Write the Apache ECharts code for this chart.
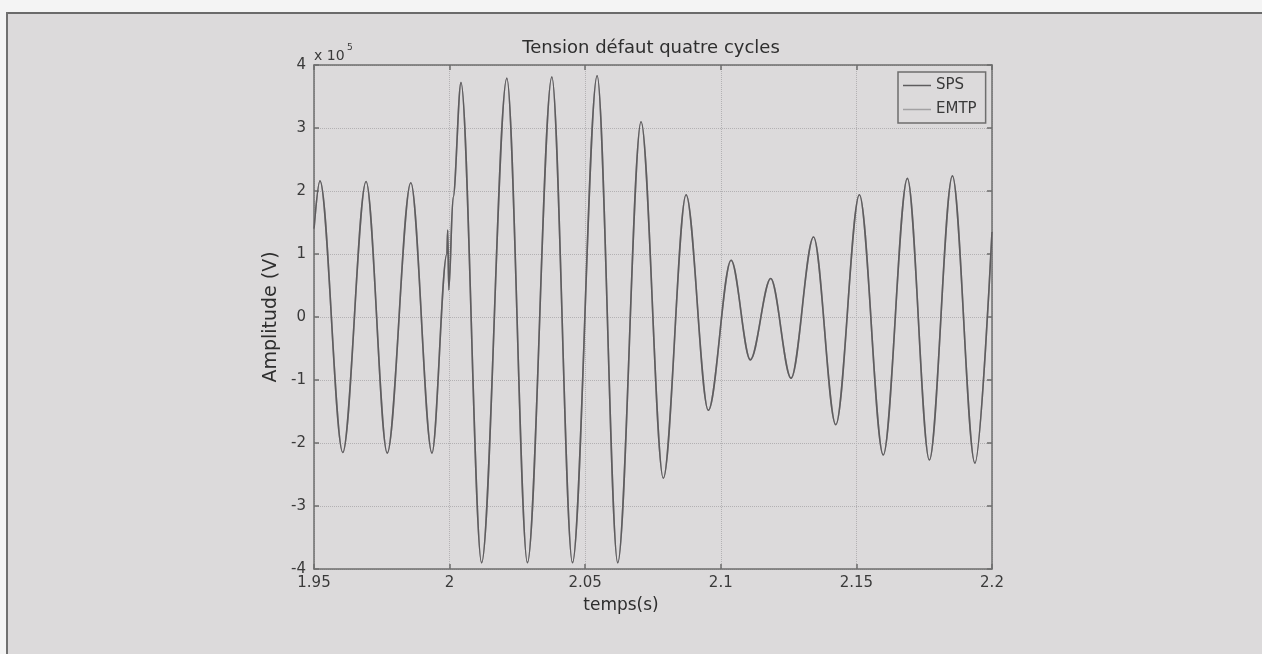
<!DOCTYPE html>
<html>
<head>
<meta charset="utf-8">
<script src="https://cdn.jsdelivr.net/npm/echarts@6/dist/echarts.min.js"></script>
<style>
html,body{margin:0;padding:0;background:#f2f2f2;}
#chart{width:1262px;height:654px;}
</style>
</head>
<body>
<div id="chart"></div>
<script>
// Time (s) of each read point: extrema of the waveform plus the fault spike near t = 2 s
const times = [1.95, 1.9522, 1.9606, 1.9692, 1.9770, 1.9857, 1.9935,
  1.9990, 1.9993, 1.9997, 2.0013, 2.0042, 2.0118, 2.0211, 2.0287, 2.0377,
  2.0453, 2.0544, 2.0620, 2.0706, 2.0788, 2.0872, 2.0954, 2.1038, 2.1109,
  2.1184, 2.1259, 2.1342, 2.1424, 2.1511, 2.1599, 2.1688, 2.1769, 2.1854,
  2.1937, 2.2];
// Amplitude in units of 10^5 V
const spsValues = [1.40, 2.16, -2.15, 2.15, -2.16, 2.13, -2.16,
  1.00, 1.38, 0.43, 1.90, 3.72, -3.90, 3.79, -3.90, 3.81,
  -3.90, 3.83, -3.90, 3.10, -2.56, 1.94, -1.48, 0.90, -0.68,
  0.61, -0.97, 1.27, -1.71, 1.94, -2.19, 2.20, -2.27, 2.24,
  -2.32, 1.35];
const emtpValues = [1.40, 2.16, -2.15, 2.15, -2.16, 2.13, -2.16,
  1.00, 1.38, 0.43, 1.90, 3.72, -3.90, 3.79, -3.90, 3.81,
  -3.90, 3.83, -3.90, 3.10, -2.56, 1.94, -1.48, 0.90, -0.68,
  0.61, -0.97, 1.27, -1.71, 1.94, -2.19, 2.20, -2.27, 2.24,
  -2.32, 1.35];
const xTicks = [1.95, 2, 2.05, 2.1, 2.15, 2.2];
const yTicks = [-4, -3, -2, -1, 0, 1, 2, 3, 4];
const seriesNames = ['SPS', 'EMTP'];
const titleText = 'Tension défaut quatre cycles';
const xName = 'temps(s)';
const yName = 'Amplitude (V)';

const FONT = 'DejaVu Sans';
const BG = '#dcdadb';
const chart = echarts.init(document.getElementById('chart'));

function pairs(vals) { return times.map((t, i) => [t, vals[i]]); }

const axisLineStyle = { color: '#6e6e6e', width: 1.5 };
const labelStyle = { color: '#3a3a3a', fontFamily: FONT, fontSize: 15 };

chart.setOption({
  backgroundColor: BG,
  animation: false,
  graphic: [
    { type: 'rect', shape: { x: 0, y: 0, width: 1262, height: 12 }, style: { fill: '#f4f4f4' }, silent: true, z: -10 },
    { type: 'rect', shape: { x: 0, y: 0, width: 6, height: 654 }, style: { fill: '#f4f4f4' }, silent: true, z: -10 },
    { type: 'line', shape: { x1: 6, y1: 13, x2: 1262, y2: 13 }, style: { stroke: '#6a6a6a', lineWidth: 2 }, silent: true },
    { type: 'line', shape: { x1: 7, y1: 12, x2: 7, y2: 654 }, style: { stroke: '#707070', lineWidth: 2 }, silent: true },
    { type: 'text', left: 314, top: 49, style: { text: 'x 10', fill: '#3a3a3a', font: '14px "DejaVu Sans"' } },
    { type: 'text', left: 347, top: 43, style: { text: '5', fill: '#3a3a3a', font: '9px "DejaVu Sans"' } }
  ],
  title: {
    text: titleText,
    left: 651,
    top: 39,
    padding: 0,
    textAlign: 'center',
    textStyle: { fontFamily: FONT, fontSize: 18, fontWeight: 'normal', color: '#2e2e2e' }
  },
  legend: {
    data: seriesNames,
    orient: 'vertical',
    left: 898,
    top: 72,
    padding: [5, 9, 5, 5],
    icon: 'rect',
    itemGap: 7,
    itemWidth: 28,
    itemHeight: 1.5,
    borderColor: '#6e6e6e',
    borderWidth: 1.5,
    backgroundColor: BG,
    textStyle: { fontFamily: FONT, fontSize: 15, color: '#3a3a3a', lineHeight: 17 }
  },
  grid: { left: 314, right: 270, top: 65, bottom: 85, containLabel: false },
  xAxis: [
    {
      type: 'value', min: 1.95, max: 2.2, interval: 0.05,
      name: xName, nameLocation: 'middle', nameGap: 28,
      nameTextStyle: { fontFamily: FONT, fontSize: 17, color: '#2e2e2e', padding: [0, 64, 0, 0] },
      axisLine: { show: true, onZero: false, lineStyle: axisLineStyle },
      axisTick: { show: true, inside: true, length: 5, lineStyle: axisLineStyle },
      axisLabel: Object.assign({ margin: 7, formatter: v => {
        const m = xTicks.find(t => Math.abs(t - v) < 1e-9);
        return m === undefined ? '' : String(m);
      } }, labelStyle),
      splitLine: { show: true, lineStyle: { color: '#b3b1b3', type: 'dotted', width: 1 } }
    },
    {
      type: 'value', min: 1.95, max: 2.2, interval: 0.05, position: 'top',
      axisLine: { show: true, onZero: false, lineStyle: axisLineStyle },
      axisTick: { show: true, inside: true, length: 5, lineStyle: axisLineStyle },
      axisLabel: { show: false }, splitLine: { show: false }
    }
  ],
  yAxis: [
    {
      type: 'value', min: -4, max: 4, interval: 1,
      name: yName, nameLocation: 'middle', nameGap: 28,
      nameTextStyle: { fontFamily: FONT, fontSize: 19, color: '#2e2e2e' },
      axisLine: { show: true, onZero: false, lineStyle: axisLineStyle },
      axisTick: { show: true, inside: true, length: 5, lineStyle: axisLineStyle },
      axisLabel: Object.assign({ margin: 8, formatter: v => {
        const m = yTicks.find(t => Math.abs(t - v) < 1e-9);
        return m === undefined ? '' : String(m);
      } }, labelStyle),
      splitLine: { show: true, lineStyle: { color: '#b3b1b3', type: 'dotted', width: 1 } }
    },
    {
      type: 'value', min: -4, max: 4, interval: 1, position: 'right',
      axisLine: { show: true, onZero: false, lineStyle: axisLineStyle },
      axisTick: { show: true, inside: true, length: 5, lineStyle: axisLineStyle },
      axisLabel: { show: false }, splitLine: { show: false }
    }
  ],
  series: [
    {
      name: 'EMTP', type: 'line', data: pairs(emtpValues),
      xAxisIndex: 0, yAxisIndex: 0,
      symbol: 'none', smooth: 0.33, smoothMonotone: 'x',
      color: '#a3a1a3', lineStyle: { color: '#a3a1a3', width: 1.6 }, z: 2
    },
    {
      name: 'SPS', type: 'line', data: pairs(spsValues),
      xAxisIndex: 0, yAxisIndex: 0,
      symbol: 'none', smooth: 0.33, smoothMonotone: 'x',
      color: '#5e5c5e', lineStyle: { color: '#5e5c5e', width: 1.6 }, z: 3
    }
  ]
});
</script>
</body>
</html>
